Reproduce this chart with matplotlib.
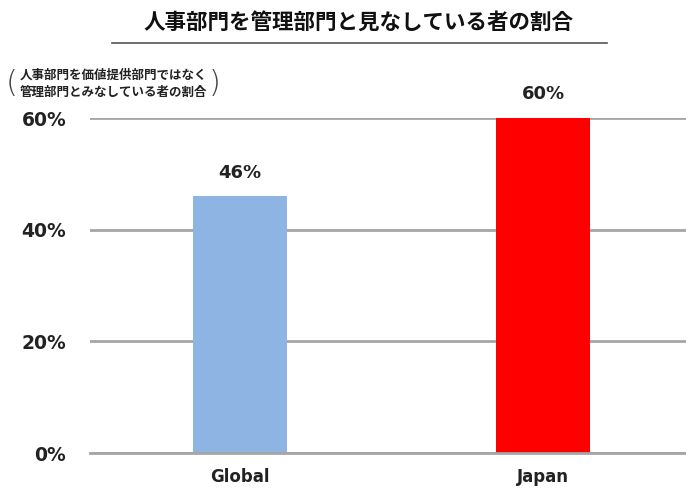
import matplotlib
matplotlib.use('Agg')
import matplotlib.pyplot as plt

plt.rcParams['font.family'] = ['Noto Sans CJK JP', 'DejaVu Sans']

# データ
categories = ['Global', 'Japan']
values = [46, 60]
colors = ['#8EB4E3', '#FF0000']
yticks = [0, 20, 40, 60]

latin = ['DejaVu Sans']

fig = plt.figure(figsize=(6.86, 4.90), dpi=100)
ax = fig.add_axes([0.131, 0.0755, 0.869, 0.6835])

x = range(len(categories))
bars = ax.bar(x, values, width=0.31, color=colors, zorder=3)

ax.set_xlim(-0.495, 1.47)
ax.set_ylim(0, 60)
ax.set_yticks(yticks)
ax.set_yticklabels([f'{v}%' for v in yticks], fontsize=13.5, fontweight='bold',
                   color='#222222', family=latin)
ax.set_xticks(list(x))
ax.set_xticklabels(categories, fontsize=12, fontweight='bold', color='#222222', family=latin)
ax.tick_params(axis='both', length=0)
ax.tick_params(axis='y', pad=17)
ax.tick_params(axis='x', pad=11)

ax.grid(axis='y', color='#A6A6A6', linewidth=2, zorder=0)
for s in ['top', 'right', 'left']:
    ax.spines[s].set_visible(False)
ax.spines['bottom'].set_color('#A6A6A6')
ax.spines['bottom'].set_linewidth(2)
ax.spines['bottom'].set_zorder(4)

# 値ラベル
for b, v in zip(bars, values):
    ax.annotate(f'{v}%', (b.get_x() + b.get_width() / 2, v),
                xytext=(0, 17), textcoords='offset points',
                ha='center', va='center', fontsize=13, fontweight='bold',
                color='#222222', family=latin, annotation_clip=False)

# タイトルと下線
fig.text(0.522, 1 - 22 / 490, '人事部門を管理部門と見なしている者の割合',
         ha='center', va='center', fontsize=15.5, fontweight='bold', color='#111111')
fig.add_artist(plt.Line2D([112 / 686, 607 / 686], [1 - 43 / 490] * 2,
                          color='#555555', linewidth=1.2))

# 軸の説明
fig.text(113 / 686, 1 - 75 / 490, '人事部門を価値提供部門ではなく', ha='center', va='center',
         fontsize=9, fontweight='bold', color='#222222')
fig.text(113 / 686, 1 - 92 / 490, '管理部門とみなしている者の割合', ha='center', va='center',
         fontsize=9, fontweight='bold', color='#222222')
fig.text(12 / 686, 1 - 83 / 490, '(', ha='center', va='center', fontsize=22,
         color='#444444', family='DejaVu Sans', fontweight='light')
fig.text(215 / 686, 1 - 83 / 490, ')', ha='center', va='center', fontsize=22,
         color='#444444', family='DejaVu Sans', fontweight='light')

fig.savefig('out.png', dpi=100)
